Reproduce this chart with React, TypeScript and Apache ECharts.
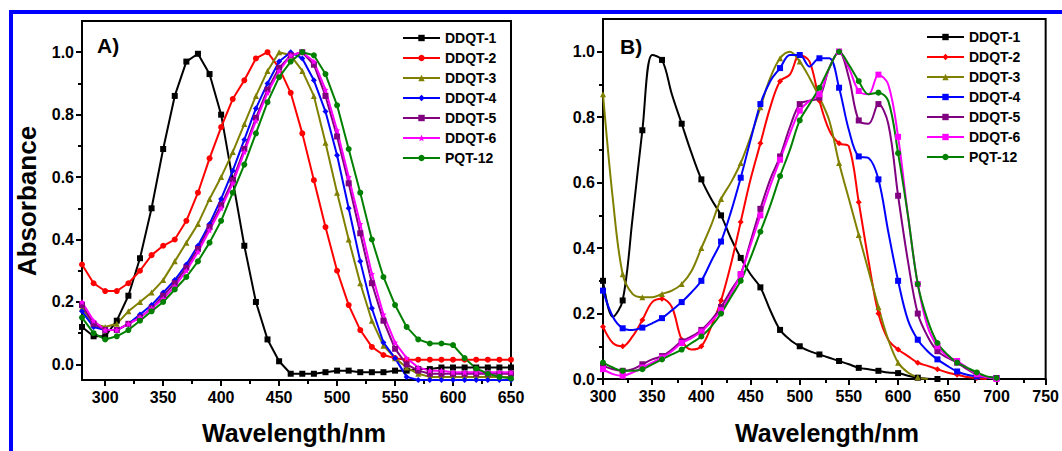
import React, { useEffect, useRef } from 'react';
import * as echarts from 'echarts';

const seriesNames = ['DDQT-1', 'DDQT-2', 'DDQT-3', 'DDQT-4', 'DDQT-5', 'DDQT-6', 'PQT-12'];
const seriesColors = ['#000000', '#ff0000', '#808000', '#0000ff', '#800080', '#ff00ff', '#008000'];
const STAR = 'path://M0,-10 L2.9,-4 L9.5,-3.1 L4.8,1.5 L5.9,8.1 L0,5 L-5.9,8.1 L-4.8,1.5 L-9.5,-3.1 L-2.9,-4Z';
const leftSymbols = ['rect', 'circle', 'triangle', 'diamond', 'rect', STAR, 'circle'];
const rightSymbols = ['rect', 'diamond', 'triangle', 'rect', 'rect', 'rect', 'circle'];

// Panel A
const leftWavelengths = [280, 290, 300, 310, 320, 330, 340, 350, 360, 370, 380, 390, 400, 410, 420, 430, 440, 450, 460, 470, 480, 490, 500, 510, 520, 530, 540, 550, 560, 570, 580, 590, 600, 610, 620, 630, 640, 650];
const leftDDQT1 = [0.12, 0.09, 0.09, 0.14, 0.22, 0.34, 0.50, 0.69, 0.86, 0.97, 0.995, 0.93, 0.80, 0.59, 0.38, 0.20, 0.08, 0.01, -0.03, -0.03, -0.03, -0.025, -0.02, -0.02, -0.025, -0.025, -0.025, -0.02, -0.02, -0.015, -0.015, -0.01, -0.01, -0.01, -0.01, -0.01, -0.01, -0.01];
const leftDDQT2 = [0.32, 0.26, 0.235, 0.235, 0.26, 0.30, 0.35, 0.38, 0.40, 0.46, 0.55, 0.66, 0.76, 0.85, 0.91, 0.98, 1.0, 0.95, 0.87, 0.74, 0.59, 0.44, 0.30, 0.19, 0.11, 0.056, 0.03, 0.02, 0.015, 0.015, 0.015, 0.015, 0.015, 0.015, 0.015, 0.015, 0.015, 0.015];
const leftDDQT3 = [0.18, 0.13, 0.12, 0.13, 0.17, 0.20, 0.23, 0.27, 0.33, 0.39, 0.45, 0.53, 0.60, 0.68, 0.77, 0.86, 0.94, 1.0, 0.99, 0.94, 0.86, 0.71, 0.55, 0.40, 0.26, 0.14, 0.06, 0.02, -0.01, -0.03, -0.04, -0.04, -0.04, -0.04, -0.04, -0.04, -0.04, -0.04];
const leftDDQT4 = [0.17, 0.12, 0.11, 0.11, 0.13, 0.16, 0.19, 0.23, 0.27, 0.32, 0.38, 0.45, 0.53, 0.62, 0.72, 0.82, 0.90, 0.97, 1.0, 0.98, 0.91, 0.81, 0.67, 0.50, 0.33, 0.18, 0.07, 0.02, -0.04, -0.05, -0.05, -0.05, -0.05, -0.05, -0.05, -0.05, -0.05, -0.05];
const leftDDQT5 = [0.19, 0.13, 0.11, 0.11, 0.13, 0.15, 0.18, 0.22, 0.26, 0.31, 0.37, 0.44, 0.51, 0.59, 0.69, 0.79, 0.88, 0.95, 0.99, 1.0, 0.96, 0.86, 0.73, 0.58, 0.42, 0.26, 0.14, 0.05, 0.0, -0.02, -0.03, -0.03, -0.03, -0.03, -0.03, -0.03, -0.03, -0.03];
const leftDDQT6 = [0.20, 0.14, 0.11, 0.11, 0.13, 0.15, 0.18, 0.21, 0.25, 0.30, 0.36, 0.43, 0.50, 0.58, 0.68, 0.78, 0.87, 0.94, 0.99, 1.0, 0.97, 0.88, 0.75, 0.60, 0.45, 0.29, 0.16, 0.07, 0.02, -0.01, -0.02, -0.02, -0.025, -0.025, -0.025, -0.025, -0.025, -0.025];
const leftPQT12 = [0.15, 0.10, 0.08, 0.09, 0.11, 0.14, 0.17, 0.20, 0.24, 0.28, 0.33, 0.39, 0.46, 0.55, 0.64, 0.74, 0.84, 0.92, 0.97, 1.0, 0.99, 0.93, 0.83, 0.69, 0.55, 0.40, 0.28, 0.19, 0.12, 0.08, 0.067, 0.067, 0.062, 0.02, -0.013, -0.03, -0.04, -0.045];

// Panel B
const rightWavelengths = [300, 310, 320, 330, 340, 350, 360, 370, 380, 390, 400, 410, 420, 430, 440, 450, 460, 470, 480, 490, 500, 510, 520, 530, 540, 550, 560, 570, 580, 590, 600, 610, 620, 630, 640, 650, 660, 670, 680, 690, 700];
const rightDDQT1 = [0.30, 0.19, 0.24, 0.49, 0.76, 0.99, 0.975, 0.87, 0.78, 0.69, 0.61, 0.55, 0.50, 0.43, 0.37, 0.32, 0.28, 0.21, 0.15, 0.12, 0.10, 0.085, 0.075, 0.065, 0.055, 0.045, 0.034, 0.03, 0.025, 0.02, 0.018, 0.01, 0.004, 0.001, 0.0];
const rightDDQT2 = [0.16, 0.11, 0.10, 0.13, 0.18, 0.235, 0.245, 0.22, 0.12, 0.09, 0.10, 0.16, 0.24, 0.35, 0.48, 0.61, 0.72, 0.83, 0.91, 0.93, 0.99, 0.97, 0.85, 0.76, 0.72, 0.71, 0.54, 0.36, 0.20, 0.12, 0.09, 0.07, 0.05, 0.04, 0.03, 0.02, 0.013, 0.006, 0.003, 0.0];
const rightDDQT3 = [0.87, 0.55, 0.32, 0.26, 0.25, 0.25, 0.26, 0.27, 0.29, 0.33, 0.40, 0.47, 0.55, 0.60, 0.66, 0.74, 0.83, 0.92, 0.98, 1.0, 0.97, 0.92, 0.86, 0.79, 0.66, 0.55, 0.44, 0.33, 0.22, 0.12, 0.05, 0.02, 0.005, 0.0];
const rightDDQT4 = [0.27, 0.19, 0.155, 0.15, 0.157, 0.17, 0.186, 0.21, 0.235, 0.265, 0.30, 0.36, 0.42, 0.51, 0.615, 0.73, 0.84, 0.91, 0.95, 0.99, 0.99, 0.955, 0.98, 0.98, 0.89, 0.76, 0.68, 0.675, 0.61, 0.45, 0.30, 0.18, 0.12, 0.085, 0.06, 0.04, 0.023, 0.013, 0.008, 0.005, 0.003];
const rightDDQT5 = [0.04, 0.03, 0.025, 0.03, 0.045, 0.06, 0.07, 0.09, 0.115, 0.13, 0.15, 0.18, 0.22, 0.27, 0.32, 0.42, 0.52, 0.61, 0.68, 0.77, 0.84, 0.85, 0.86, 0.95, 1.0, 0.92, 0.79, 0.78, 0.84, 0.78, 0.56, 0.36, 0.20, 0.13, 0.085, 0.065, 0.05, 0.03, 0.013, 0.006, 0.003];
const rightDDQT6 = [0.03, 0.015, 0.01, 0.02, 0.035, 0.05, 0.065, 0.085, 0.11, 0.125, 0.145, 0.175, 0.21, 0.26, 0.32, 0.41, 0.50, 0.59, 0.67, 0.75, 0.82, 0.85, 0.87, 0.95, 1.0, 0.95, 0.88, 0.87, 0.93, 0.90, 0.74, 0.50, 0.29, 0.16, 0.10, 0.07, 0.055, 0.035, 0.015, 0.005, 0.0];
const rightPQT12 = [0.05, 0.035, 0.025, 0.025, 0.03, 0.045, 0.06, 0.075, 0.09, 0.11, 0.13, 0.16, 0.20, 0.25, 0.30, 0.37, 0.45, 0.53, 0.62, 0.70, 0.79, 0.84, 0.89, 0.95, 1.0, 0.96, 0.91, 0.87, 0.875, 0.85, 0.69, 0.50, 0.29, 0.18, 0.11, 0.075, 0.05, 0.035, 0.02, 0.008, 0.003];

const leftValues = [leftDDQT1, leftDDQT2, leftDDQT3, leftDDQT4, leftDDQT5, leftDDQT6, leftPQT12];
const rightValues = [rightDDQT1, rightDDQT2, rightDDQT3, rightDDQT4, rightDDQT5, rightDDQT6, rightPQT12];

// Ticks
const leftXMajor = [300, 350, 400, 450, 500, 550, 600, 650];
const leftXMinor = [325, 375, 425, 475, 525, 575, 625];
const rightXMajor = [300, 350, 400, 450, 500, 550, 600, 650, 700, 750];
const rightXMinor = [325, 375, 425, 475, 525, 575, 625, 675, 725];
const yMajor = [0, 0.2, 0.4, 0.6, 0.8, 1.0];
const yMinor = [0.1, 0.3, 0.5, 0.7, 0.9];

const FONT = 'Liberation Sans, Arial, sans-serif';

function zip(xs: number[], ys: number[]) {
  return ys.map((y, i) => [xs[i], y]);
}

function majorAxis(gridIndex: number, min: number, max: number, ticks: number[], isY: boolean) {
  return {
    type: 'value',
    gridIndex,
    position: isY ? 'left' : 'bottom',
    min,
    max,
    axisLine: { show: true, onZero: false, lineStyle: { color: '#000', width: 2 } },
    axisTick: { show: true, inside: false, length: 6, customValues: ticks, lineStyle: { color: '#000', width: 2 } },
    axisLabel: {
      show: true,
      customValues: ticks,
      color: '#000',
      fontFamily: FONT,
      fontWeight: 'bold',
      fontSize: 16,
      margin: isY ? 8 : 9,
      formatter: isY ? (v: number) => v.toFixed(1) : (v: number) => String(v),
    },
    splitLine: { show: false },
  };
}

function minorAxis(gridIndex: number, min: number, max: number, ticks: number[], isY: boolean) {
  return {
    type: 'value',
    gridIndex,
    position: isY ? 'left' : 'bottom',
    min,
    max,
    axisLine: { show: false, onZero: false },
    axisTick: { show: true, inside: false, length: 4, customValues: ticks, lineStyle: { color: '#000', width: 2 } },
    axisLabel: { show: false },
    splitLine: { show: false },
  };
}

const LEFT_RECT = { left: 82, top: 21, width: 429, height: 359 };
const RIGHT_RECT = { left: 603, top: 19, width: 446, height: 360 };

export default function App() {
  const ref = useRef<HTMLDivElement>(null);
  useEffect(() => {
    if (!ref.current) return;
    const chart = echarts.init(ref.current, undefined, { renderer: 'svg' });

    const series: any[] = [];
    seriesNames.forEach((name, i) => {
      series.push({
        type: 'line',
        name,
        xAxisIndex: 0,
        yAxisIndex: 0,
        data: zip(leftWavelengths, leftValues[i]),
        symbol: leftSymbols[i],
        symbolSize: 6,
        color: seriesColors[i],
        lineStyle: { width: 2, color: seriesColors[i] },
        itemStyle: { color: seriesColors[i] },
        silent: true,
      });
    });
    seriesNames.forEach((name, i) => {
      series.push({
        type: 'line',
        name: name + ' ',
        xAxisIndex: 1,
        yAxisIndex: 1,
        data: zip(rightWavelengths, rightValues[i]),
        symbol: rightSymbols[i],
        symbolSize: (_v: any, p: any) => (p.dataIndex % 2 === 0 ? 6 : 0),
        smooth: 0.35,
        color: seriesColors[i],
        lineStyle: { width: 2, color: seriesColors[i] },
        itemStyle: { color: seriesColors[i] },
        silent: true,
      });
    });

    const legendBase = {
      orient: 'vertical',
      itemWidth: 37,
      itemHeight: 8,
      itemGap: 0,
      padding: 0,
      selectedMode: false,
      textStyle: { color: '#000', fontFamily: FONT, fontWeight: 'bold', fontSize: 14, lineHeight: 20 },
      formatter: (n: string) => n.trim(),
    };

    chart.setOption({
      animation: false,
      backgroundColor: '#ffffff',
      grid: [
        { ...LEFT_RECT, show: true, borderColor: '#000', borderWidth: 2, backgroundColor: 'transparent' },
        { ...RIGHT_RECT, show: true, borderColor: '#000', borderWidth: 2, backgroundColor: 'transparent' },
        { ...LEFT_RECT, show: false },
        { ...RIGHT_RECT, show: false },
      ],
      xAxis: [
        majorAxis(0, 280, 650, leftXMajor, false),
        majorAxis(1, 300, 750, rightXMajor, false),
        minorAxis(2, 280, 650, leftXMinor, false),
        minorAxis(3, 300, 750, rightXMinor, false),
      ],
      yAxis: [
        majorAxis(0, -0.05, 1.1, yMajor, true),
        majorAxis(1, 0, 1.1, yMajor, true),
        minorAxis(2, -0.05, 1.1, yMinor, true),
        minorAxis(3, 0, 1.1, yMinor, true),
      ],
      legend: [
        { ...legendBase, left: 402, top: 28, data: seriesNames },
        { ...legendBase, left: 926, top: 27, data: seriesNames.map((n) => n + ' ') },
      ],
      series,
      graphic: [
        { type: 'rect', left: 9, top: 10, shape: { width: 1053, height: 4 }, style: { fill: '#0000ff' }, silent: true },
        { type: 'rect', left: 9, top: 10, shape: { width: 4, height: 441 }, style: { fill: '#0000ff' }, silent: true },
        {
          type: 'text', x: 97, y: 45,
          style: { text: 'A)', fill: '#000', font: `bold 21px ${FONT}`, textAlign: 'left', textVerticalAlign: 'middle' },
          silent: true,
        },
        {
          type: 'text', x: 620, y: 46,
          style: { text: 'B)', fill: '#000', font: `bold 21px ${FONT}`, textAlign: 'left', textVerticalAlign: 'middle' },
          silent: true,
        },
        {
          type: 'text', x: 27, y: 201, rotation: Math.PI / 2,
          style: { text: 'Absorbance', fill: '#000', font: `bold 26px ${FONT}`, textAlign: 'center', textVerticalAlign: 'middle' },
          silent: true,
        },
        {
          type: 'text', x: 294, y: 433,
          style: { text: 'Wavelength/nm', fill: '#000', font: `bold 25px ${FONT}`, textAlign: 'center', textVerticalAlign: 'middle' },
          silent: true,
        },
        {
          type: 'text', x: 827, y: 433,
          style: { text: 'Wavelength/nm', fill: '#000', font: `bold 25px ${FONT}`, textAlign: 'center', textVerticalAlign: 'middle' },
          silent: true,
        },
      ],
    });
    return () => chart.dispose();
  }, []);
  return <div ref={ref} style={{ position: 'absolute', left: 0, top: 0, width: 1062, height: 451, background: '#fff' }} />;
}
